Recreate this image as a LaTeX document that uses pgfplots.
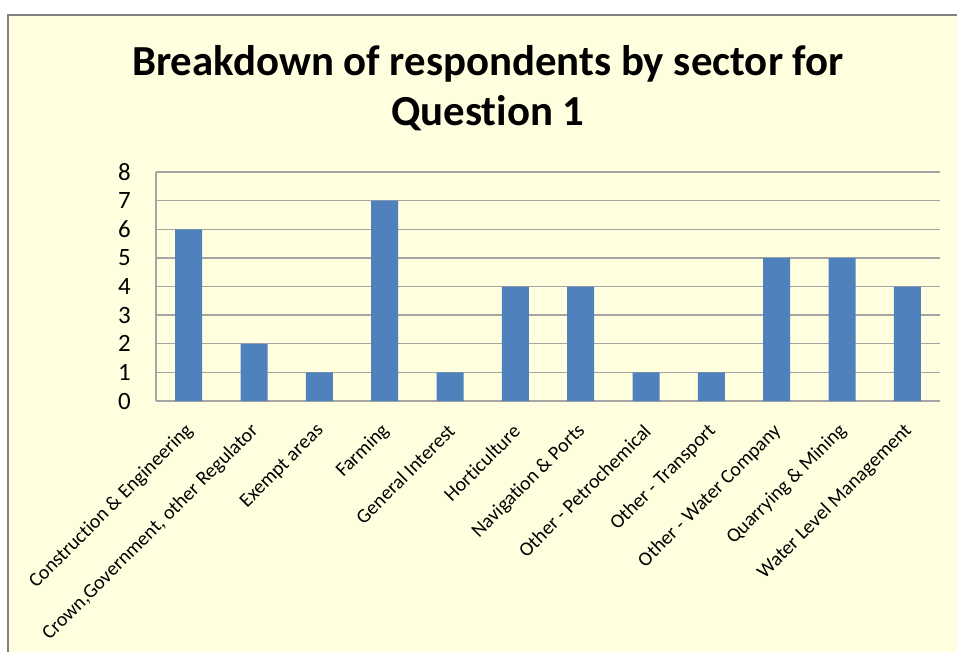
\documentclass[border=0pt]{standalone}
\usepackage{pgfplots}
\pgfplotsset{compat=1.18}
\usepackage{fontspec}
\setmainfont{Carlito}[Ligatures={NoCommon}]
\definecolor{bgc}{RGB}{255,255,224}
\definecolor{barc}{RGB}{79,129,189}
\definecolor{gridc}{RGB}{165,165,165}
\definecolor{framec}{RGB}{128,128,128}
\begin{document}
\begin{tikzpicture}[x=1bp,y=1bp]
\useasboundingbox (0,0) rectangle (957,-652);
\begin{scope}
\clip (0,0) rectangle (957,-652);
\fill[bgc] (8,-15) rectangle (1000,-700);
\draw[framec, line width=2.5bp] (8,-700) -- (8,-15) -- (1000,-15);
\end{scope}
\node[font=\fontsize{43}{50}\selectfont\bfseries, align=center] at (488,-88) {Breakdown of respondents by sector for\\Question 1};
\begin{axis}[
  at={(156bp,-401bp)}, anchor=south west,
  width=784bp, height=229bp, scale only axis,
  xmin=-0.5, xmax=11.5, ymin=0, ymax=8,
  ytick={0,...,8},
  ymajorgrids, grid style={gridc, line width=1.4bp},
  axis lines*=left,
  axis line style={gridc, line width=1.4bp, -},
  major tick length=0pt,
  xtick={0,...,11},
  xticklabels={Construction \& Engineering, {Crown,Government, other Regulator}, Exempt areas, Farming, General Interest, Horticulture, Navigation \& Ports, Other - Petrochemical, Other - Transport, Other - Water Company, Quarrying \& Mining, Water Level Management},
  xticklabel style={rotate=45, anchor=east, inner sep=0pt, xshift=-18bp, yshift=-20bp, font=\fontsize{20}{24}\selectfont},
  yticklabel style={anchor=east, inner sep=0pt, xshift=-25bp, font=\fontsize{25}{30}\selectfont},
  /pgf/number format/assume math mode=true,
  ybar, bar width=27bp,
]
\addplot[fill=barc, draw=none] coordinates {(0,6) (1,2) (2,1) (3,7) (4,1) (5,4) (6,4) (7,1) (8,1) (9,5) (10,5) (11,4)};
\end{axis}
\end{tikzpicture}
\end{document}
